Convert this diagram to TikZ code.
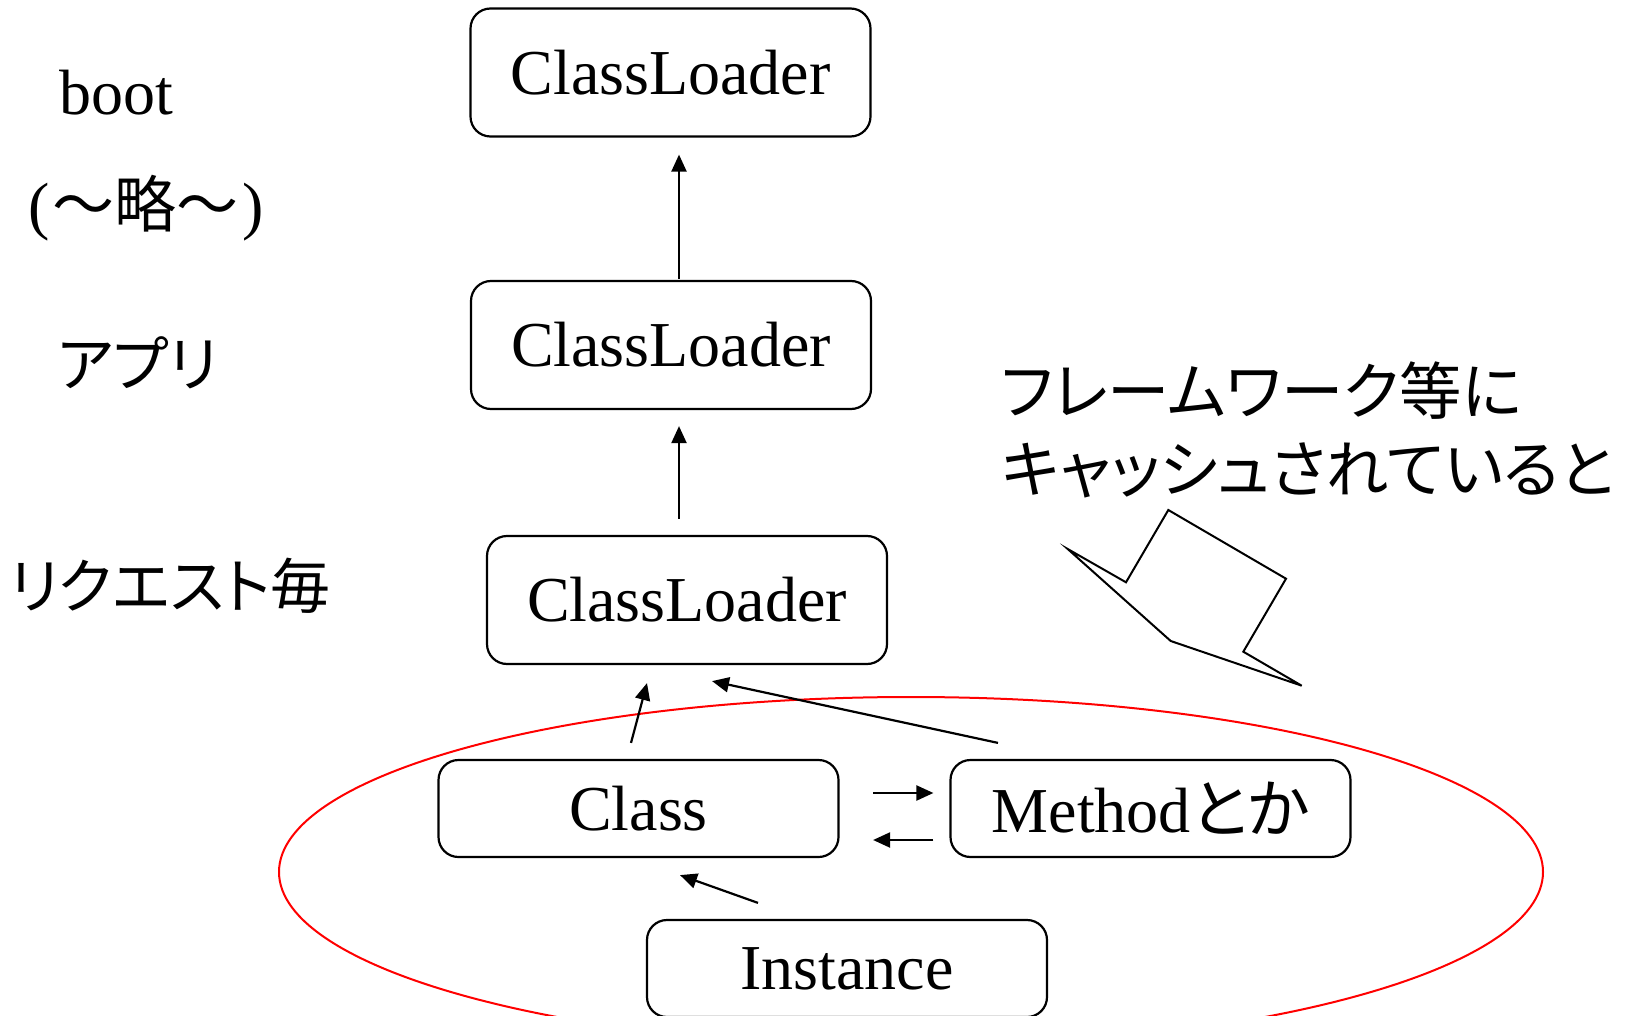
\documentclass[tikz,border=0pt]{standalone}
\usepackage{fontspec}
\setmainfont{Liberation Serif}
\newfontfamily\jp[RawFeature=+palt]{Noto Sans CJK JP}
\newfontfamily\jpw{Noto Sans CJK JP}
\usetikzlibrary{arrows.meta,calc}

\begin{document}
\begin{tikzpicture}[x=0.5pt,y=-0.5pt,
  loader/.style={draw,line width=1.1pt,rounded corners=10pt,
    minimum width=200pt,minimum height=64pt,inner sep=0pt,
    font=\fontsize{32}{36}\selectfont},
  item/.style={loader,minimum height=48.5pt},
  lbl/.style={inner sep=0pt,anchor=west,font=\fontsize{30}{36}\selectfont\jp},
  link/.style={line width=1.1pt,-{Triangle[length=8.5pt,width=7.5pt]}},
]
\useasboundingbox (0,0) rectangle (1627,1016);
\begin{scope}
\clip (0,0) rectangle (1627,1016);

% grouping of the per-request objects
\draw[red,line width=1pt] (911,872) ellipse [x radius=632,y radius=175];

% loader hierarchy
\node[loader] (cl1) at (670.5,72.5) {ClassLoader};
\node[loader] (cl2) at (671,345) {ClassLoader};
\node[loader] (cl3) at (687,600) {ClassLoader};

% objects held by the request loader
\node[item] (cls) at (638.5,808.5) {Class};
\node[item] (mth) at (1150.5,808.5) {Method{\jp とか}};
\node[item] (inst) at (847,968.5) {Instance};

% level labels
\node[inner sep=0pt,anchor=west,font=\fontsize{32}{36}\selectfont] (lboot) at (59,93) {boot};
\node[inner sep=0pt,anchor=west,font=\fontsize{32}{36}\selectfont] (lomit) at (28,208)
  {(\hspace{0.05em}{\fontsize{31}{36}\selectfont\jpw ～略～}\hspace{0.05em})};
\node[lbl] (lapp) at (57,363) {アプリ};
\node[lbl] (lreq) at (9,586) {リクエスト毎};

% note
\node[lbl,align=left,font=\fontsize{31.2}{39}\selectfont\jp] (note) at (1001,430)
  {フレームワーク等に\\キャッシュされていると};

% parent links
\draw[link] ($(cl2.north)+(8,-1)$) -- ($(cl1.south)+(8.5,17)$);
\draw[link] ($(cl3.north)+(-8,-16)$) -- ($(cl2.south)+(8,16)$);
\draw[link] ($(cls.north)+(-7.5,-16)$) -- ($(cl3.south)+(-40,18)$);
\draw[link] ($(mth.north)+(-152.5,-16)$) -- ($(cl3.south)+(25,16)$);

% class <-> method
\draw[link] ($(cls.east)+(33.5,-15.5)$) -- ($(mth.west)+(-16,-15.5)$);
\draw[link] ($(mth.west)+(-16,31.5)$) -- ($(cls.east)+(33.5,31.5)$);

% instance -> class
\draw[link] ($(inst.north)+(-89,-16)$) -- ($(cls.south)+(41.5,17)$);

% callout pointing at the ellipse
\draw[line width=1pt,line join=miter] (1067.7,549) -- (1126,582.3) -- (1168.3,510)
  -- (1286,578.7) -- (1243.3,651.7) -- (1301.7,685.7) -- (1170.7,641) -- cycle;
\end{scope}
\end{tikzpicture}
\end{document}
